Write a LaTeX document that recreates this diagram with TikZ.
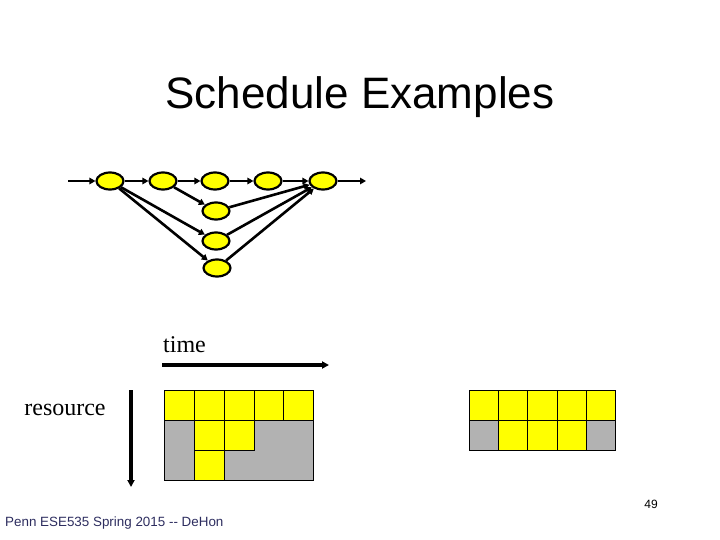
\documentclass[tikz,border=0pt]{standalone}
\usepackage{fontspec}
\setmainfont{Liberation Serif}
\setsansfont{Liberation Sans}
\usetikzlibrary{arrows.meta,shapes.geometric}
\definecolor{cellyellow}{RGB}{255,255,0}
\definecolor{cellgray}{RGB}{178,178,178}
\definecolor{footblue}{RGB}{45,45,95}
\begin{document}
\begin{tikzpicture}[x=1pt,y=-1pt,
  task/.style={ellipse,draw=black,line width=2.2pt,fill=cellyellow,minimum width=27pt,minimum height=17pt,inner sep=0pt},
  dep/.style={line width=2.6pt,-{Triangle[length=6pt,width=6.5pt]}},
  axis/.style={line width=3.2pt,-{Triangle[length=7pt,width=7pt]}},
  ycell/.style={fill=cellyellow,draw=black,line width=0.9pt},
  gcell/.style={fill=cellgray,draw=black,line width=0.9pt}]
\useasboundingbox (0,0) rectangle (720,540);
% title
\node[anchor=base,font=\sffamily\fontsize{44}{50}\selectfont] (title) at (360,109) {Schedule Examples};
% graph
\coordinate (in) at (68,181);
\coordinate (out) at (366,181);
\node[task] (n1) at (110,181) {};
\node[task] (n2) at (163,181) {};
\node[task] (n3) at (215,181) {};
\node[task] (n4) at (268,181) {};
\node[task] (n5) at (323,181) {};
\node[task] (n6) at (216,211) {};
\node[task] (n7) at (216,241) {};
\node[task] (n8) at (217,268) {};
\draw[dep] (in) -- (n1);
\draw[dep] (n1) -- (n2);
\draw[dep] (n2) -- (n3);
\draw[dep] (n3) -- (n4);
\draw[dep] (n4) -- (n5);
\draw[dep] (n5) -- (out);
\draw[dep] (n2) -- (n6);
\draw[dep] (n1) -- (n7);
\draw[dep] (n1) -- (n8);
\draw[dep] (n6) -- (n5);
\draw[dep] (n7) -- (n5);
\draw[dep] (n8) -- (n5);
% axes
\node[anchor=base west,font=\fontsize{24}{28}\selectfont,inner sep=0pt] (time) at (163,352) {time};
\node[anchor=base,font=\fontsize{24}{28}\selectfont,inner sep=0pt] (res) at (65,415) {resource};
\coordinate (t0) at (162,365);
\coordinate (t1) at (329,365);
\coordinate (r0) at (131,390);
\coordinate (r1) at (131,487);
\draw[axis] (t0) -- (t1);
\draw[axis] (r0) -- (r1);
% grid 1
\foreach \a/\b in {164/194,194/224,224/254,254/283,283/313}
  \draw[ycell] (\a,390) rectangle (\b,420);
\draw[gcell] (164,420) rectangle (194,480);
\draw[gcell] (224,480) -- (224,450) -- (254,450) -- (254,420) -- (313,420) -- (313,480) -- cycle;
\draw[ycell] (194,420) rectangle (224,450);
\draw[ycell] (224,420) rectangle (254,450);
\draw[ycell] (194,450) rectangle (224,480);
% grid 2
\foreach \a/\b in {469/498,498/527,527/557,557/586,586/615}
  \draw[ycell] (\a,390) rectangle (\b,420);
\draw[gcell] (469,420) rectangle (498,450);
\foreach \a/\b in {498/527,527/557,557/586}
  \draw[ycell] (\a,420) rectangle (\b,450);
\draw[gcell] (586,420) rectangle (615,450);
% footer
\node[anchor=base west,inner sep=0pt,text=footblue,font=\sffamily\fontsize{13.4}{16}\selectfont] (foot) at (5,526) {Penn ESE535 Spring 2015 {-}{-} DeHon};
\node[anchor=base,inner sep=0pt,font=\sffamily\fontsize{12}{14}\selectfont] (page) at (651,508) {49};
\end{tikzpicture}
\end{document}
